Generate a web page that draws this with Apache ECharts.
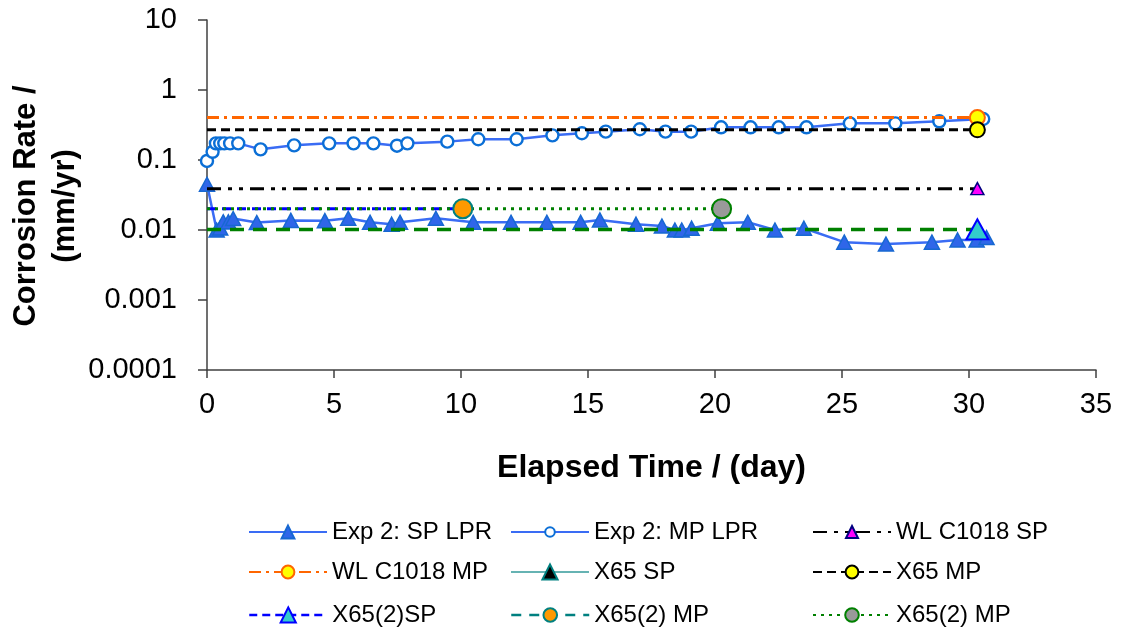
<!DOCTYPE html>
<html>
<head>
<meta charset="utf-8">
<script src="https://cdn.jsdelivr.net/npm/echarts@6/dist/echarts.min.js"></script>
<style>
  html, body { margin: 0; padding: 0; background: #ffffff; }
  #chart { width: 1130px; height: 628px; }
</style>
</head>
<body>
<div id="chart"></div>
<script>
// Exp 2 single-phase LPR readings
const spDays = [0, 0.38, 0.52, 0.64, 0.84, 1.03, 1.96, 3.30, 4.64, 5.56, 6.42, 7.27, 7.60, 9.01, 10.48, 11.97, 13.38, 14.71, 15.47, 16.89, 17.91, 18.42, 18.69, 19.08, 20.11, 21.29, 22.36, 23.50, 25.09, 26.73, 28.54, 29.55, 30.30, 30.69];
const spRates = [0.045, 0.0100, 0.0107, 0.0131, 0.0131, 0.0146, 0.0128, 0.0137, 0.0136, 0.0147, 0.0129, 0.0121, 0.0129, 0.0147, 0.0129, 0.0129, 0.0129, 0.0129, 0.0139, 0.0121, 0.0114, 0.0100, 0.0100, 0.0106, 0.0125, 0.0129, 0.0100, 0.0106, 0.0067, 0.0063, 0.0067, 0.0072, 0.0072, 0.0078];

// Exp 2 multiphase LPR readings
const mpDays = [0, 0.22, 0.35, 0.52, 0.68, 0.91, 1.23, 2.11, 3.43, 4.81, 5.77, 6.55, 7.48, 7.89, 9.46, 10.68, 12.19, 13.60, 14.76, 15.70, 17.04, 18.05, 19.06, 20.24, 21.40, 22.51, 23.60, 25.31, 27.10, 28.83, 30.56];
const mpRates = [0.097, 0.131, 0.173, 0.173, 0.173, 0.173, 0.173, 0.142, 0.162, 0.173, 0.173, 0.173, 0.160, 0.173, 0.183, 0.198, 0.198, 0.225, 0.241, 0.254, 0.275, 0.254, 0.254, 0.293, 0.293, 0.293, 0.293, 0.334, 0.334, 0.357, 0.385];

// Weight-loss results (averaged rate over the exposure period)
const wlC1018SpDays = [0, 30.33];
const wlC1018SpRates = [0.039, 0.039];
const wlC1018MpDays = [0, 30.33];
const wlC1018MpRates = [0.405, 0.405];
const x65SpDays = [30.33];
const x65SpRates = [0.0102];
const x65MpDays = [0, 30.33];
const x65MpRates = [0.27, 0.27];
const x65bSpDays = [0, 30.33];
const x65bSpRates = [0.0102, 0.0102];
const x65bMpDays = [0, 10.07];
const x65bMpRates = [0.0201, 0.0201];
const x65bMp2Days = [0, 20.26];
const x65bMp2Rates = [0.0201, 0.0201];

// Axis ticks
const xTicks = [0, 5, 10, 15, 20, 25, 30, 35];
const yTickLabels = ['0.0001', '0.001', '0.01', '0.1', '1', '10'];

const FONT = 'Liberation Sans';

function points(days, rates) {
  return days.map((d, i) => [d, rates[i]]);
}
// Averaged rate lines: marker only at the end of the period
function periodLine(days, rates) {
  return days.map((d, i) => i < days.length - 1
    ? { value: [d, rates[i]], symbol: 'none' }
    : [d, rates[i]]);
}

const displayName = { 'X65(2) MP [2]': 'X65(2) MP' };

const series = [
  {
    name: 'Exp 2: SP LPR', type: 'line', data: points(spDays, spRates),
    symbol: 'triangle', symbolSize: [15, 14],
    lineStyle: { color: '#3a6cf4', width: 2.5 },
    itemStyle: { color: '#2f66e9', borderColor: '#1768d1', borderWidth: 1.5 },
    z: 2
  },
  {
    name: 'Exp 2: MP LPR', type: 'line', data: points(mpDays, mpRates),
    symbol: 'circle', symbolSize: 12,
    lineStyle: { color: '#3a6cf4', width: 2.5 },
    itemStyle: { color: '#ffffff', borderColor: '#0b6fd6', borderWidth: 2.4 },
    z: 2
  },
  {
    name: 'WL C1018 SP', type: 'line', data: periodLine(wlC1018SpDays, wlC1018SpRates),
    symbol: 'triangle', symbolSize: [13, 12],
    lineStyle: { color: '#000000', width: 3, type: [14, 7, 4, 7, 4, 7] },
    itemStyle: { color: '#ff00ff', borderColor: '#000080', borderWidth: 1.5 },
    z: 3
  },
  {
    name: 'WL C1018 MP', type: 'line', data: periodLine(wlC1018MpDays, wlC1018MpRates),
    symbol: 'circle', symbolSize: 15,
    lineStyle: { color: '#ff6600', width: 3, type: [12, 5, 3, 5] },
    itemStyle: { color: '#ffff00', borderColor: '#ff6600', borderWidth: 2 },
    z: 3
  },
  {
    name: 'X65 SP', type: 'line', data: points(x65SpDays, x65SpRates),
    symbol: 'triangle', symbolSize: [16, 15],
    lineStyle: { color: '#66b3b3', width: 1.5 },
    itemStyle: { color: '#000000', borderColor: '#008080', borderWidth: 1.5 },
    z: 3
  },
  {
    name: 'X65 MP', type: 'line', data: periodLine(x65MpDays, x65MpRates),
    symbol: 'circle', symbolSize: 15,
    lineStyle: { color: '#000000', width: 3, type: [9, 5] },
    itemStyle: { color: '#ffff00', borderColor: '#000000', borderWidth: 2 },
    z: 3
  },
  {
    name: 'X65(2)SP', type: 'line', data: periodLine(x65bSpDays, x65bSpRates),
    symbol: 'triangle', symbolSize: [22, 20],
    lineStyle: { color: '#008000', width: 3.5, type: [14, 9] },
    itemStyle: { color: '#33cccc', borderColor: '#0000ff', borderWidth: 2 },
    z: 4
  },
  {
    name: 'X65(2) MP', type: 'line', data: periodLine(x65bMpDays, x65bMpRates),
    symbol: 'circle', symbolSize: 19,
    lineStyle: { color: '#0000ff', width: 3, type: [9, 6] },
    itemStyle: { color: '#ff9900', borderColor: '#008080', borderWidth: 2 },
    z: 3
  },
  {
    name: 'X65(2) MP [2]', type: 'line', data: periodLine(x65bMp2Days, x65bMp2Rates),
    symbol: 'circle', symbolSize: 19,
    lineStyle: { color: '#008000', width: 3, type: [3, 5] },
    itemStyle: { color: '#999999', borderColor: '#008000', borderWidth: 2 },
    z: 3
  }
];

// Legend grid: three columns by three rows
const legendLayout = [
  [{ name: 'Exp 2: SP LPR', h: 16 }, { name: 'Exp 2: MP LPR', h: 12 }, { name: 'WL C1018 SP', h: 15 }],
  [{ name: 'WL C1018 MP', h: 16 }, { name: 'X65 SP', h: 19 }, { name: 'X65 MP', h: 16 }],
  [{ name: 'X65(2)SP', h: 19, lineStyle: { color: '#0000ff', width: 2.5, type: [8, 5] } },
   { name: 'X65(2) MP', h: 17, lineStyle: { color: '#008080', width: 2.5, type: [10, 8] } },
   { name: 'X65(2) MP [2]', h: 17 }]
];
const legendColX = [248, 510, 812];
const legendRowY = [532, 572, 615];

const legends = [];
legendLayout.forEach((row, r) => {
  row.forEach((item, c) => {
    const entry = { name: item.name };
    if (item.lineStyle) entry.lineStyle = item.lineStyle;
    legends.push({
      data: [entry],
      left: legendColX[c],
      top: legendRowY[r] - 12,
      padding: 0,
      itemWidth: 78,
      itemHeight: item.h,
      selectedMode: false,
      formatter: n => displayName[n] || n,
      textStyle: { fontFamily: FONT, fontSize: 24, color: '#000000' }
    });
  });
});

const chart = echarts.init(document.getElementById('chart'), null, { renderer: 'canvas' });
chart.setOption({
  animation: false,
  backgroundColor: '#ffffff',
  grid: { left: 207, top: 20, right: 34, bottom: 258, containLabel: false, outerBoundsMode: 'none' },
  legend: legends,
  xAxis: {
    type: 'value', min: xTicks[0], max: xTicks[xTicks.length - 1], interval: xTicks[1] - xTicks[0],
    name: 'Elapsed Time / (day)', nameLocation: 'middle', nameGap: 82, nameMoveOverlap: false,
    nameTextStyle: { fontFamily: FONT, fontSize: 32, fontWeight: 'bold', color: '#000000' },
    axisLine: { onZero: false, lineStyle: { color: '#404040', width: 1.5 } },
    axisTick: { show: true, inside: false, length: 8, lineStyle: { color: '#404040', width: 1.5 } },
    axisLabel: { fontFamily: FONT, fontSize: 29, color: '#000000', margin: 20 },
    splitLine: { show: false }
  },
  yAxis: {
    type: 'log', logBase: 10, min: 0.0001, max: 10,
    name: 'Corrosion Rate /\n(mm/yr)', nameLocation: 'middle', nameGap: 122, nameMoveOverlap: false,
    nameTextStyle: {
      fontFamily: FONT, fontSize: 31, fontWeight: 'bold', color: '#000000',
      lineHeight: 39, align: 'center', padding: [0, 22, 0, 0]
    },
    axisLine: { show: true, lineStyle: { color: '#404040', width: 1.5 } },
    axisTick: { show: true, inside: false, length: 9, lineStyle: { color: '#404040', width: 1.5 } },
    axisLabel: {
      fontFamily: FONT, fontSize: 29, color: '#000000', margin: 30,
      formatter: v => yTickLabels[Math.round(Math.log10(v)) + 4]
    },
    minorTick: { show: false },
    splitLine: { show: false }
  },
  series: series
});
</script>
</body>
</html>
